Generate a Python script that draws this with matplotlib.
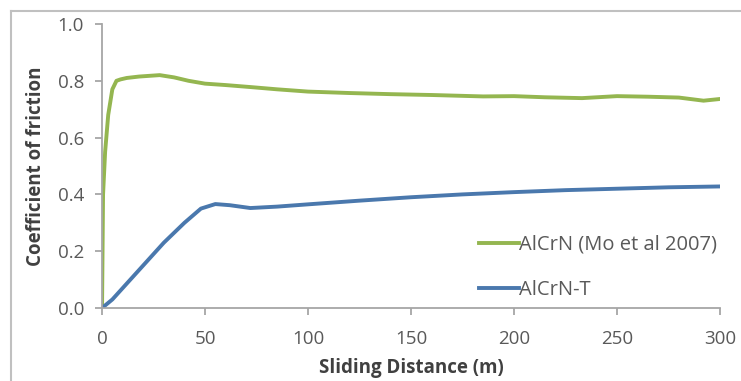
import matplotlib
matplotlib.use('Agg')
import matplotlib.pyplot as plt
from matplotlib.lines import Line2D

# Sliding distance (m) and coefficient of friction
dist_mo = [0, 0.5, 1.5, 3, 5, 7, 9, 12, 18, 28, 35, 42, 50, 60, 72, 85, 100, 120, 140, 160, 185, 200, 215, 233, 250, 265, 280, 292, 300]
cof_mo = [0.0, 0.40, 0.55, 0.68, 0.77, 0.80, 0.805, 0.81, 0.815, 0.82, 0.812, 0.80, 0.79, 0.785, 0.778, 0.77, 0.762, 0.757, 0.753, 0.75, 0.745, 0.746, 0.742, 0.739, 0.746, 0.744, 0.741, 0.73, 0.736]

dist_t = [0, 5, 10, 20, 30, 40, 48, 55, 62, 72, 85, 100, 125, 150, 175, 200, 225, 250, 275, 300]
cof_t = [0.0, 0.03, 0.07, 0.15, 0.23, 0.30, 0.35, 0.366, 0.362, 0.352, 0.357, 0.365, 0.378, 0.39, 0.40, 0.408, 0.415, 0.42, 0.425, 0.428]

series_labels = ['AlCrN (Mo et al 2007)', 'AlCrN-T']
green = '#94b650'
blue = '#4a78ad'
grey = '#595959'

plt.rcParams['font.family'] = ['Open Sans', 'DejaVu Sans']

fig = plt.figure(figsize=(7.41, 3.81), dpi=100)
ax = fig.add_axes([0.1377, 0.1916, 0.8340, 0.7454])

ax.plot(dist_mo, cof_mo, color=green, linewidth=2.8, solid_capstyle='round')
ax.plot(dist_t, cof_t, color=blue, linewidth=2.8, solid_capstyle='round')

ax.set_xlim(0, 300)
ax.set_ylim(0, 1.0)
ax.set_xticks(range(0, 301, 50))
ax.set_yticks([0.0, 0.2, 0.4, 0.6, 0.8, 1.0])
ax.set_yticklabels(['0.0', '0.2', '0.4', '0.6', '0.8', '1.0'])

for side in ['top', 'right']:
    ax.spines[side].set_visible(False)
for side in ['left', 'bottom']:
    ax.spines[side].set_color('#a6a6a6')
    ax.spines[side].set_linewidth(1.3)

ax.tick_params(axis='both', colors='#a6a6a6', labelcolor=grey, labelsize=13.5, length=5, width=1.3)
ax.tick_params(axis='x', pad=11)
ax.tick_params(axis='y', pad=8)

ax.set_xlabel('Sliding Distance (m)', fontsize=13.5, fontweight='bold', color='#404040', labelpad=7)
ax.set_ylabel('Coefficient of friction', fontsize=13.5, fontweight='bold', color='#404040', labelpad=8)

handles = [Line2D([], [], color=green, linewidth=2.8), Line2D([], [], color=blue, linewidth=2.8)]
ax.legend(handles, series_labels, loc='lower right', bbox_to_anchor=(1.025, -0.035),
          frameon=False, fontsize=14.5, handlelength=2.0, handletextpad=0.0,
          labelspacing=1.25, labelcolor=grey)

# outer chart border (only top and left visible in the crop)
fig.add_artist(Line2D([11 / 741, 11 / 741], [0, 1 - 11 / 381], transform=fig.transFigure, color='#c0c0c0', linewidth=1.5))
fig.add_artist(Line2D([11 / 741, 1], [1 - 11 / 381, 1 - 11 / 381], transform=fig.transFigure, color='#c0c0c0', linewidth=1.5))

fig.savefig('out.png', dpi=100)
